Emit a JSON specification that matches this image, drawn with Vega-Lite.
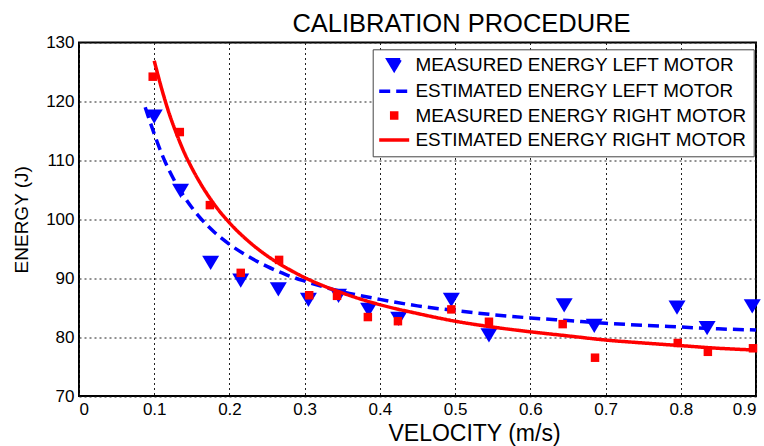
{
  "$schema": "https://vega.github.io/schema/vega-lite/v6.json",
  "width": 677,
  "height": 353.5,
  "autosize": {"type": "none"},
  "padding": {"left": 79, "top": 42.5, "right": 8, "bottom": 50},
  "background": "#ffffff",
  "title": {
    "text": "CALIBRATION PROCEDURE",
    "font": "Liberation Sans",
    "fontSize": 25.5,
    "fontWeight": "normal",
    "color": "#000000",
    "dx": 44,
    "dy": 12,
    "offset": 8
  },
  "config": {
    "font": "Liberation Sans",
    "view": {"stroke": "#000000", "strokeWidth": 2},
    "axis": {
      "labelFont": "Liberation Sans",
      "labelFontSize": 17,
      "labelColor": "#000000",
      "labelPadding": 5,
      "ticks": false,
      "domain": false,
      "grid": true,
      "gridColor": "#222222",
      "gridDash": [2, 3],
      "gridWidth": 1,
      "gridOpacity": 1,
      "titleFont": "Liberation Sans",
      "titleFontWeight": "normal",
      "titleColor": "#000000"
    }
  },
  "data": {
    "values": [
      {"series": "MEASURED ENERGY LEFT MOTOR", "v": 0.1, "e": 117.4},
      {"series": "MEASURED ENERGY LEFT MOTOR", "v": 0.135, "e": 104.8},
      {"series": "MEASURED ENERGY LEFT MOTOR", "v": 0.175, "e": 92.6},
      {"series": "MEASURED ENERGY LEFT MOTOR", "v": 0.215, "e": 89.6},
      {"series": "MEASURED ENERGY LEFT MOTOR", "v": 0.265, "e": 88.1},
      {"series": "MEASURED ENERGY LEFT MOTOR", "v": 0.305, "e": 86.3},
      {"series": "MEASURED ENERGY LEFT MOTOR", "v": 0.345, "e": 87.0},
      {"series": "MEASURED ENERGY LEFT MOTOR", "v": 0.385, "e": 84.6},
      {"series": "MEASURED ENERGY LEFT MOTOR", "v": 0.425, "e": 83.1},
      {"series": "MEASURED ENERGY LEFT MOTOR", "v": 0.495, "e": 86.3},
      {"series": "MEASURED ENERGY LEFT MOTOR", "v": 0.545, "e": 80.3},
      {"series": "MEASURED ENERGY LEFT MOTOR", "v": 0.645, "e": 85.4},
      {"series": "MEASURED ENERGY LEFT MOTOR", "v": 0.685, "e": 81.9},
      {"series": "MEASURED ENERGY LEFT MOTOR", "v": 0.795, "e": 85.0},
      {"series": "MEASURED ENERGY LEFT MOTOR", "v": 0.835, "e": 81.5},
      {"series": "MEASURED ENERGY LEFT MOTOR", "v": 0.895, "e": 85.2},

      {"series": "ESTIMATED ENERGY LEFT MOTOR", "v": 0.088, "e": 119.0},
      {"series": "ESTIMATED ENERGY LEFT MOTOR", "v": 0.1, "e": 114.5},
      {"series": "ESTIMATED ENERGY LEFT MOTOR", "v": 0.11, "e": 111.1},
      {"series": "ESTIMATED ENERGY LEFT MOTOR", "v": 0.12, "e": 108.25},
      {"series": "ESTIMATED ENERGY LEFT MOTOR", "v": 0.13, "e": 105.85},
      {"series": "ESTIMATED ENERGY LEFT MOTOR", "v": 0.14, "e": 103.8},
      {"series": "ESTIMATED ENERGY LEFT MOTOR", "v": 0.15, "e": 102.0},
      {"series": "ESTIMATED ENERGY LEFT MOTOR", "v": 0.16, "e": 100.4},
      {"series": "ESTIMATED ENERGY LEFT MOTOR", "v": 0.18, "e": 97.8},
      {"series": "ESTIMATED ENERGY LEFT MOTOR", "v": 0.2, "e": 95.75},
      {"series": "ESTIMATED ENERGY LEFT MOTOR", "v": 0.225, "e": 93.7},
      {"series": "ESTIMATED ENERGY LEFT MOTOR", "v": 0.25, "e": 92.0},
      {"series": "ESTIMATED ENERGY LEFT MOTOR", "v": 0.275, "e": 90.6},
      {"series": "ESTIMATED ENERGY LEFT MOTOR", "v": 0.3, "e": 89.5},
      {"series": "ESTIMATED ENERGY LEFT MOTOR", "v": 0.35, "e": 87.7},
      {"series": "ESTIMATED ENERGY LEFT MOTOR", "v": 0.4, "e": 86.4},
      {"series": "ESTIMATED ENERGY LEFT MOTOR", "v": 0.45, "e": 85.3},
      {"series": "ESTIMATED ENERGY LEFT MOTOR", "v": 0.5, "e": 84.5},
      {"series": "ESTIMATED ENERGY LEFT MOTOR", "v": 0.55, "e": 83.8},
      {"series": "ESTIMATED ENERGY LEFT MOTOR", "v": 0.6, "e": 83.25},
      {"series": "ESTIMATED ENERGY LEFT MOTOR", "v": 0.65, "e": 82.8},
      {"series": "ESTIMATED ENERGY LEFT MOTOR", "v": 0.7, "e": 82.35},
      {"series": "ESTIMATED ENERGY LEFT MOTOR", "v": 0.75, "e": 82.0},
      {"series": "ESTIMATED ENERGY LEFT MOTOR", "v": 0.8, "e": 81.7},
      {"series": "ESTIMATED ENERGY LEFT MOTOR", "v": 0.85, "e": 81.4},
      {"series": "ESTIMATED ENERGY LEFT MOTOR", "v": 0.9, "e": 81.2},

      {"series": "MEASURED ENERGY RIGHT MOTOR", "v": 0.098, "e": 124.2},
      {"series": "MEASURED ENERGY RIGHT MOTOR", "v": 0.134, "e": 114.8},
      {"series": "MEASURED ENERGY RIGHT MOTOR", "v": 0.174, "e": 102.4},
      {"series": "MEASURED ENERGY RIGHT MOTOR", "v": 0.215, "e": 90.9},
      {"series": "MEASURED ENERGY RIGHT MOTOR", "v": 0.266, "e": 93.1},
      {"series": "MEASURED ENERGY RIGHT MOTOR", "v": 0.306, "e": 87.1},
      {"series": "MEASURED ENERGY RIGHT MOTOR", "v": 0.343, "e": 87.0},
      {"series": "MEASURED ENERGY RIGHT MOTOR", "v": 0.384, "e": 83.4},
      {"series": "MEASURED ENERGY RIGHT MOTOR", "v": 0.424, "e": 82.7},
      {"series": "MEASURED ENERGY RIGHT MOTOR", "v": 0.495, "e": 84.7},
      {"series": "MEASURED ENERGY RIGHT MOTOR", "v": 0.545, "e": 82.6},
      {"series": "MEASURED ENERGY RIGHT MOTOR", "v": 0.643, "e": 82.2},
      {"series": "MEASURED ENERGY RIGHT MOTOR", "v": 0.686, "e": 76.5},
      {"series": "MEASURED ENERGY RIGHT MOTOR", "v": 0.796, "e": 79.0},
      {"series": "MEASURED ENERGY RIGHT MOTOR", "v": 0.836, "e": 77.5},
      {"series": "MEASURED ENERGY RIGHT MOTOR", "v": 0.896, "e": 78.1},

      {"series": "ESTIMATED ENERGY RIGHT MOTOR", "v": 0.1, "e": 126.9},
      {"series": "ESTIMATED ENERGY RIGHT MOTOR", "v": 0.11, "e": 122.1},
      {"series": "ESTIMATED ENERGY RIGHT MOTOR", "v": 0.12, "e": 117.9},
      {"series": "ESTIMATED ENERGY RIGHT MOTOR", "v": 0.13, "e": 114.4},
      {"series": "ESTIMATED ENERGY RIGHT MOTOR", "v": 0.14, "e": 111.3},
      {"series": "ESTIMATED ENERGY RIGHT MOTOR", "v": 0.15, "e": 108.7},
      {"series": "ESTIMATED ENERGY RIGHT MOTOR", "v": 0.16, "e": 106.4},
      {"series": "ESTIMATED ENERGY RIGHT MOTOR", "v": 0.18, "e": 102.5},
      {"series": "ESTIMATED ENERGY RIGHT MOTOR", "v": 0.2, "e": 99.4},
      {"series": "ESTIMATED ENERGY RIGHT MOTOR", "v": 0.225, "e": 96.3},
      {"series": "ESTIMATED ENERGY RIGHT MOTOR", "v": 0.25, "e": 93.8},
      {"series": "ESTIMATED ENERGY RIGHT MOTOR", "v": 0.275, "e": 91.8},
      {"series": "ESTIMATED ENERGY RIGHT MOTOR", "v": 0.3, "e": 90.1},
      {"series": "ESTIMATED ENERGY RIGHT MOTOR", "v": 0.35, "e": 87.5},
      {"series": "ESTIMATED ENERGY RIGHT MOTOR", "v": 0.4, "e": 85.5},
      {"series": "ESTIMATED ENERGY RIGHT MOTOR", "v": 0.45, "e": 84.0},
      {"series": "ESTIMATED ENERGY RIGHT MOTOR", "v": 0.5, "e": 82.7},
      {"series": "ESTIMATED ENERGY RIGHT MOTOR", "v": 0.55, "e": 81.7},
      {"series": "ESTIMATED ENERGY RIGHT MOTOR", "v": 0.6, "e": 80.9},
      {"series": "ESTIMATED ENERGY RIGHT MOTOR", "v": 0.65, "e": 80.2},
      {"series": "ESTIMATED ENERGY RIGHT MOTOR", "v": 0.7, "e": 79.5},
      {"series": "ESTIMATED ENERGY RIGHT MOTOR", "v": 0.75, "e": 79.0},
      {"series": "ESTIMATED ENERGY RIGHT MOTOR", "v": 0.8, "e": 78.55},
      {"series": "ESTIMATED ENERGY RIGHT MOTOR", "v": 0.85, "e": 78.1},
      {"series": "ESTIMATED ENERGY RIGHT MOTOR", "v": 0.9, "e": 77.8}
    ]
  },
  "encoding": {
    "x": {
      "field": "v",
      "type": "quantitative",
      "scale": {"domain": [0, 0.9], "nice": false, "zero": false},
      "axis": {
        "values": [0, 0.1, 0.2, 0.3, 0.4, 0.5, 0.6, 0.7, 0.8, 0.9],
        "format": ".1~f",
        "title": "VELOCITY (m/s)",
        "titleFontSize": 23,
        "titlePadding": 5,
        "titleX": 395
      }
    },
    "y": {
      "field": "e",
      "type": "quantitative",
      "scale": {"domain": [70, 130], "nice": false, "zero": false},
      "axis": {
        "values": [70, 80, 90, 100, 110, 120, 130],
        "title": "ENERGY (J)",
        "titleFontSize": 19,
        "titlePadding": 14
      }
    },
    "color": {
      "field": "series",
      "type": "nominal",
      "scale": {
        "domain": ["MEASURED ENERGY LEFT MOTOR", "ESTIMATED ENERGY LEFT MOTOR", "MEASURED ENERGY RIGHT MOTOR", "ESTIMATED ENERGY RIGHT MOTOR"],
        "range": ["#0000ff", "#0000ff", "#ff0000", "#ff0000"]
      },
      "legend": {
        "orient": "none",
        "legendX": 293.7,
        "legendY": 6.8,
        "title": null,
        "labelFont": "Liberation Sans",
        "labelFontSize": 18.9,
        "labelColor": "#000000",
        "labelLimit": 500,
        "labelOffset": 11.8,
        "symbolSize": 225,
        "symbolStrokeWidth": 3.5,
        "symbolOffset": 6,
        "rowPadding": 4.4,
        "padding": 6,
        "strokeColor": "#444444",
        "fillColor": "#ffffff",
        "encode": {
          "symbols": {
            "update": {
              "stroke": {"scale": "color", "field": "value"}
            }
          }
        }
      }
    }
  },
  "layer": [
    {
      "transform": [{"filter": "datum.series === 'MEASURED ENERGY LEFT MOTOR'"}],
      "mark": {"type": "point", "filled": true, "size": 452, "opacity": 1},
      "encoding": {
        "shape": {
          "field": "series",
          "type": "nominal",
          "scale": {
            "domain": ["MEASURED ENERGY LEFT MOTOR", "ESTIMATED ENERGY LEFT MOTOR", "MEASURED ENERGY RIGHT MOTOR", "ESTIMATED ENERGY RIGHT MOTOR"],
            "range": ["M-0.8,-0.67L0.8,-0.67L0,0.67Z", "M-2,0L2,0", "M-0.333,-0.333L0.333,-0.333L0.333,0.333L-0.333,0.333Z", "M-2,0L2,0"]
          }
        }
      }
    },
    {
      "transform": [{"filter": "datum.series === 'ESTIMATED ENERGY LEFT MOTOR'"}],
      "mark": {"type": "line", "strokeWidth": 3.5, "interpolate": "monotone"},
      "encoding": {
        "strokeDash": {
          "field": "series",
          "type": "nominal",
          "scale": {
            "domain": ["MEASURED ENERGY LEFT MOTOR", "ESTIMATED ENERGY LEFT MOTOR", "MEASURED ENERGY RIGHT MOTOR", "ESTIMATED ENERGY RIGHT MOTOR"],
            "range": [[1, 0], [11, 6], [1, 0], [1, 0]]
          }
        }
      }
    },
    {
      "transform": [{"filter": "datum.series === 'MEASURED ENERGY RIGHT MOTOR'"}],
      "mark": {"type": "point", "filled": true, "size": 650, "opacity": 1},
      "encoding": {
        "shape": {
          "field": "series",
          "type": "nominal"
        }
      }
    },
    {
      "transform": [{"filter": "datum.series === 'ESTIMATED ENERGY RIGHT MOTOR'"}],
      "mark": {"type": "line", "strokeWidth": 3.5, "interpolate": "monotone"},
      "encoding": {
        "strokeDash": {
          "field": "series",
          "type": "nominal"
        }
      }
    }
  ]
}
